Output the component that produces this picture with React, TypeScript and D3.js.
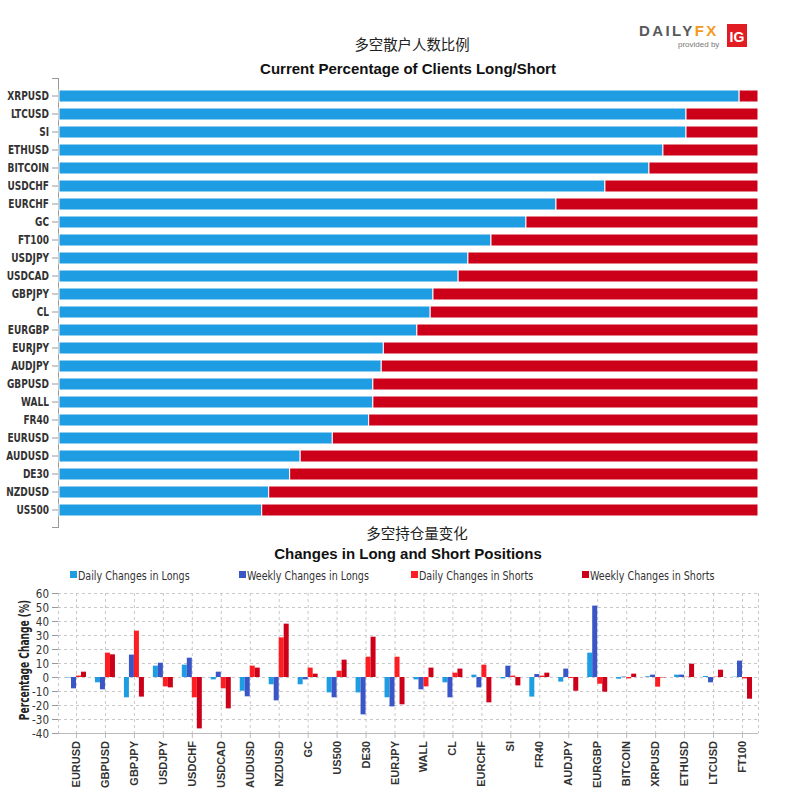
import React from "react";
import * as d3 from "d3";

const topCategories = ["XRPUSD","LTCUSD","SI","ETHUSD","BITCOIN","USDCHF","EURCHF","GC","FT100","USDJPY","USDCAD","GBPJPY","CL","EURGBP","EURJPY","AUDJPY","GBPUSD","WALL","FR40","EURUSD","AUDUSD","DE30","NZDUSD","US500"];
const longPct = [97.3, 89.7, 89.7, 86.4, 84.4, 78.1, 71.1, 66.8, 61.8, 58.5, 57.1, 53.5, 53.1, 51.2, 46.4, 46.1, 44.9, 44.9, 44.3, 39.1, 34.5, 33.0, 30.0, 29.0];

const changeCategories = ["EURUSD","GBPUSD","GBPJPY","USDJPY","USDCHF","USDCAD","AUDUSD","NZDUSD","GC","US500","DE30","EURJPY","WALL","CL","EURCHF","SI","FR40","AUDJPY","EURGBP","BITCOIN","XRPUSD","ETHUSD","LTCUSD","FT100"];
const dailyLongs = [-0.3, -3.8, -14.5, 8.1, 8.8, -1.7, -9.8, -5.2, -5.2, -11, -11, -14.5, -1.7, -3.8, 1.7, -1, -14, -3.3, 17.4, -1.2, 0.5, 1.7, 0.7, 0.2];
const weeklyLongs = [-8.1, -8.8, 16, 10.2, 13.8, 3.8, -13.8, -16.7, -1.7, -14.5, -26.7, -21, -8.8, -14.5, -7.4, 8.1, 2.1, 6, 51, 0.3, 1.7, 1.7, -3.8, 11.7];
const dailyShorts = [1, 17.4, 33.1, -6.7, -14.5, -8.1, 8.1, 28.3, 6.7, 4.5, 14.5, 14.5, -6.7, 3.1, 8.8, 1, 1, -0.7, -4.8, -1, -6.9, 0.2, 0.2, -1];
const weeklyShorts = [3.8, 16.2, -14, -7.4, -36.7, -22.4, 6.7, 38.1, 2.4, 12.4, 28.8, -19.5, 6.7, 6, -18.1, -6, 3.1, -9.8, -10.5, 2.4, -0.3, 9.5, 5.2, -15.5];
const yTicks = [60, 50, 40, 30, 20, 10, 0, -10, -20, -30, -40];

const seriesNames = ["Daily Changes in Longs", "Weekly Changes in Longs", "Daily Changes in Shorts", "Weekly Changes in Shorts"];
const seriesColors = ["#1f9de2", "#3a55c6", "#fd1e24", "#cc0019"];

const NARROW = "'Liberation Sans Narrow', 'DejaVu Sans Condensed', 'Roboto', sans-serif";
const SANS = "'Liberation Sans', Arial, sans-serif";
const CJK = "'Noto Sans CJK SC', sans-serif";

export default function App() {
  const xTop = d3.scaleLinear().domain([0, 100]).range([59, 758]);
  const yTop = d3.scaleBand<string>().domain(topCategories).range([87, 519]);

  const xBot = d3.scalePoint<string>().domain(changeCategories).range([76, 742]);
  const yBot = d3.scaleLinear().domain([-40, 60]).range([733, 593]);
  const series = [dailyLongs, weeklyLongs, dailyShorts, weeklyShorts];
  const barW = 5;
  const legendX = [70, 239, 411, 582];

  return (
    <svg width={800} height={800} style={{ position: "absolute", left: 0, top: 0, background: "#fff" }}>
      <rect x={0} y={0} width={800} height={800} fill="#fff" />
      {/* Logo */}
      <text x={639} y={36} fontFamily={SANS} fontWeight="bold" fontSize={15} letterSpacing={2.4} fill="#58595b">DAILY<tspan fill="#f39a1e">FX</tspan></text>
      <text x={678} y={47} fontFamily={SANS} fontSize={8} fill="#777">provided by</text>
      <rect x={727} y={24} width={20} height={23} fill="#e21c23" />
      <text x={737} y={42} textAnchor="middle" fontFamily={SANS} fontWeight="bold" fontSize={14} fill="#fff">IG</text>

      {/* Top titles */}
      <text x={412} y={50} textAnchor="middle" fontFamily={CJK} fontSize={14.4} fill="#222">多空散户人数比例</text>
      <text x={408} y={74} textAnchor="middle" fontFamily={SANS} fontWeight="bold" fontSize={15} fill="#111">Current Percentage of Clients Long/Short</text>

      {/* Top axis */}
      <line x1={58.5} x2={58.5} y1={78} y2={528} stroke="#999" />
      <line x1={52} x2={58.5} y1={78.5} y2={78.5} stroke="#999" />
      <line x1={52} x2={58.5} y1={527.5} y2={527.5} stroke="#999" />
      {topCategories.map((c, i) => {
        const yc = (yTop(c) as number) + yTop.bandwidth() / 2;
        return (
          <g key={c}>
            <line x1={52} x2={58} y1={yc} y2={yc} stroke="#999" />
            <text transform={`translate(49,${yc + 4}) scale(0.87,1)`} textAnchor="end" fontFamily={NARROW} fontWeight="bold" fontSize={11.5} fill="#333">{c}</text>
            <rect x={xTop(0)} y={yc - 6} width={xTop(longPct[i]) - xTop(0)} height={12} fill="#1f9de2" stroke="#fff" strokeWidth={1} />
            <rect x={xTop(longPct[i])} y={yc - 6} width={xTop(100) - xTop(longPct[i])} height={12} fill="#cc0019" stroke="#fff" strokeWidth={1} />
          </g>
        );
      })}

      {/* Bottom titles */}
      <text x={417} y={539} textAnchor="middle" fontFamily={CJK} fontSize={14.5} fill="#222">多空持仓量变化</text>
      <text x={408} y={559} textAnchor="middle" fontFamily={SANS} fontWeight="bold" fontSize={15} fill="#111">Changes in Long and Short Positions</text>

      {/* Legend */}
      {seriesNames.map((n, i) => (
        <g key={n}>
          <rect x={legendX[i]} y={571} width={7} height={7} fill={seriesColors[i]} />
          <text transform={`translate(${legendX[i] + 8},579.5) scale(0.85,1)`} fontFamily={NARROW} fontSize={12.5} fill="#333">{n}</text>
        </g>
      ))}

      {/* Bottom grid */}
      {yTicks.map((t) => (
        <g key={t}>
          {t > -40 && <line x1={58} x2={758} y1={yBot(t) + 0.5} y2={yBot(t) + 0.5} stroke="#c8c8c8" strokeDasharray="3,3" />}
          <line x1={52} x2={58} y1={yBot(t) + 0.5} y2={yBot(t) + 0.5} stroke="#999" />
          <text transform={`translate(49,${yBot(t) + 4.5}) scale(0.92,1)`} textAnchor="end" fontFamily={NARROW} fontSize={12.5} fill="#333">{t}</text>
        </g>
      ))}
      <line x1={58.5} x2={58.5} y1={593} y2={733} stroke="#c8c8c8" strokeDasharray="3,3" />
      <line x1={758.5} x2={758.5} y1={593} y2={733} stroke="#c8c8c8" strokeDasharray="3,3" />
      {changeCategories.map((c) => (
        <line key={c} x1={(xBot(c) as number) + 0.5} x2={(xBot(c) as number) + 0.5} y1={593} y2={733} stroke="#c8c8c8" strokeDasharray="3,3" />
      ))}
      <line x1={58} x2={758} y1={733.5} y2={733.5} stroke="#bbb" />

      {/* Bars */}
      {changeCategories.map((c, i) => {
        const cx = xBot(c) as number;
        return (
          <g key={c}>
            {series.map((s, k) => {
              const v = s[i];
              const y0 = yBot(0);
              const y1 = yBot(v);
              return (
                <rect key={k} x={cx - 10 + k * barW} y={Math.min(y0, y1)} width={barW} height={Math.abs(y1 - y0)} fill={seriesColors[k]} />
              );
            })}
            <line x1={cx + 0.5} x2={cx + 0.5} y1={733} y2={738} stroke="#bbb" />
            <text transform={`translate(${cx + 4},741) rotate(-90)`} textAnchor="end" fontFamily={SANS} fontWeight="bold" fontSize={11} fill="#333">{c}</text>
          </g>
        );
      })}

      {/* Y axis title */}
      <text transform="translate(29,660) rotate(-90) scale(0.72,1)" textAnchor="middle" fontFamily={NARROW} fontWeight="bold" fontSize={14} fill="#222">Percentage Change (%)</text>
    </svg>
  );
}
